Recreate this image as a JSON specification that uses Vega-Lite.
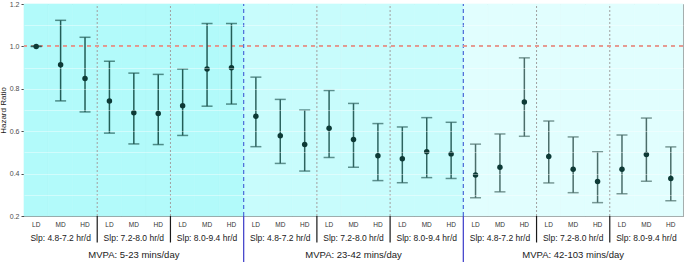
{
  "$schema": "https://vega.github.io/schema/vega-lite/v6.json",
  "width": 659,
  "height": 212,
  "autosize": {"type": "none"},
  "padding": {"left": 24, "top": 4, "right": 2, "bottom": 46},
  "config": {
    "font": "Liberation Sans",
    "view": {"stroke": "#8c8c8c", "strokeWidth": 1}
  },
  "data": {
    "values": [
      {"mvpa": "5-23", "slp": "4.8-7.2", "dose": "LD", "cat": "5-23|4.8-7.2|LD", "hr": 1.0, "lo": 1.0, "hi": 1.0},
      {"mvpa": "5-23", "slp": "4.8-7.2", "dose": "MD", "cat": "5-23|4.8-7.2|MD", "hr": 0.913, "lo": 0.743, "hi": 1.123},
      {"mvpa": "5-23", "slp": "4.8-7.2", "dose": "HD", "cat": "5-23|4.8-7.2|HD", "hr": 0.849, "lo": 0.691, "hi": 1.043},
      {"mvpa": "5-23", "slp": "7.2-8.0", "dose": "LD", "cat": "5-23|7.2-8.0|LD", "hr": 0.742, "lo": 0.591, "hi": 0.930},
      {"mvpa": "5-23", "slp": "7.2-8.0", "dose": "MD", "cat": "5-23|7.2-8.0|MD", "hr": 0.687, "lo": 0.540, "hi": 0.874},
      {"mvpa": "5-23", "slp": "7.2-8.0", "dose": "HD", "cat": "5-23|7.2-8.0|HD", "hr": 0.683, "lo": 0.537, "hi": 0.868},
      {"mvpa": "5-23", "slp": "8.0-9.4", "dose": "LD", "cat": "5-23|8.0-9.4|LD", "hr": 0.720, "lo": 0.580, "hi": 0.893},
      {"mvpa": "5-23", "slp": "8.0-9.4", "dose": "MD", "cat": "5-23|8.0-9.4|MD", "hr": 0.893, "lo": 0.718, "hi": 1.108},
      {"mvpa": "5-23", "slp": "8.0-9.4", "dose": "HD", "cat": "5-23|8.0-9.4|HD", "hr": 0.899, "lo": 0.728, "hi": 1.108},
      {"mvpa": "23-42", "slp": "4.8-7.2", "dose": "LD", "cat": "23-42|4.8-7.2|LD", "hr": 0.670, "lo": 0.527, "hi": 0.855},
      {"mvpa": "23-42", "slp": "4.8-7.2", "dose": "MD", "cat": "23-42|4.8-7.2|MD", "hr": 0.579, "lo": 0.448, "hi": 0.750},
      {"mvpa": "23-42", "slp": "4.8-7.2", "dose": "HD", "cat": "23-42|4.8-7.2|HD", "hr": 0.537, "lo": 0.412, "hi": 0.700},
      {"mvpa": "23-42", "slp": "7.2-8.0", "dose": "LD", "cat": "23-42|7.2-8.0|LD", "hr": 0.614, "lo": 0.476, "hi": 0.792},
      {"mvpa": "23-42", "slp": "7.2-8.0", "dose": "MD", "cat": "23-42|7.2-8.0|MD", "hr": 0.561, "lo": 0.430, "hi": 0.731},
      {"mvpa": "23-42", "slp": "7.2-8.0", "dose": "HD", "cat": "23-42|7.2-8.0|HD", "hr": 0.484, "lo": 0.367, "hi": 0.636},
      {"mvpa": "23-42", "slp": "8.0-9.4", "dose": "LD", "cat": "23-42|8.0-9.4|LD", "hr": 0.470, "lo": 0.357, "hi": 0.620},
      {"mvpa": "23-42", "slp": "8.0-9.4", "dose": "MD", "cat": "23-42|8.0-9.4|MD", "hr": 0.503, "lo": 0.381, "hi": 0.664},
      {"mvpa": "23-42", "slp": "8.0-9.4", "dose": "HD", "cat": "23-42|8.0-9.4|HD", "hr": 0.493, "lo": 0.377, "hi": 0.642},
      {"mvpa": "42-103", "slp": "4.8-7.2", "dose": "LD", "cat": "42-103|4.8-7.2|LD", "hr": 0.393, "lo": 0.286, "hi": 0.539},
      {"mvpa": "42-103", "slp": "4.8-7.2", "dose": "MD", "cat": "42-103|4.8-7.2|MD", "hr": 0.430, "lo": 0.314, "hi": 0.587},
      {"mvpa": "42-103", "slp": "4.8-7.2", "dose": "HD", "cat": "42-103|4.8-7.2|HD", "hr": 0.738, "lo": 0.576, "hi": 0.946},
      {"mvpa": "42-103", "slp": "7.2-8.0", "dose": "LD", "cat": "42-103|7.2-8.0|LD", "hr": 0.481, "lo": 0.356, "hi": 0.648},
      {"mvpa": "42-103", "slp": "7.2-8.0", "dose": "MD", "cat": "42-103|7.2-8.0|MD", "hr": 0.421, "lo": 0.310, "hi": 0.573},
      {"mvpa": "42-103", "slp": "7.2-8.0", "dose": "HD", "cat": "42-103|7.2-8.0|HD", "hr": 0.363, "lo": 0.263, "hi": 0.503},
      {"mvpa": "42-103", "slp": "8.0-9.4", "dose": "LD", "cat": "42-103|8.0-9.4|LD", "hr": 0.421, "lo": 0.305, "hi": 0.582},
      {"mvpa": "42-103", "slp": "8.0-9.4", "dose": "MD", "cat": "42-103|8.0-9.4|MD", "hr": 0.490, "lo": 0.364, "hi": 0.662},
      {"mvpa": "42-103", "slp": "8.0-9.4", "dose": "HD", "cat": "42-103|8.0-9.4|HD", "hr": 0.377, "lo": 0.272, "hi": 0.526}
    ]
  },
  "resolve": {"axis": {"x": "independent", "y": "independent"}},
  "layer": [
    {
      "mark": {"type": "rect", "strokeWidth": 0.6},
      "encoding": {
        "x": {
          "field": "cat", "type": "ordinal",
          "scale": {
            "type": "band", "paddingInner": 0, "paddingOuter": 0,
            "domain": ["5-23|4.8-7.2|LD","5-23|4.8-7.2|MD","5-23|4.8-7.2|HD","5-23|7.2-8.0|LD","5-23|7.2-8.0|MD","5-23|7.2-8.0|HD","5-23|8.0-9.4|LD","5-23|8.0-9.4|MD","5-23|8.0-9.4|HD","23-42|4.8-7.2|LD","23-42|4.8-7.2|MD","23-42|4.8-7.2|HD","23-42|7.2-8.0|LD","23-42|7.2-8.0|MD","23-42|7.2-8.0|HD","23-42|8.0-9.4|LD","23-42|8.0-9.4|MD","23-42|8.0-9.4|HD","42-103|4.8-7.2|LD","42-103|4.8-7.2|MD","42-103|4.8-7.2|HD","42-103|7.2-8.0|LD","42-103|7.2-8.0|MD","42-103|7.2-8.0|HD","42-103|8.0-9.4|LD","42-103|8.0-9.4|MD","42-103|8.0-9.4|HD"]
          },
          "axis": {
            "orient": "bottom", "title": null, "ticks": false, "tickSize": 0, "domain": false,
            "labelExpr": "split(datum.value, '|')[2]", "labelAngle": 0,
            "labelFontSize": 6.5, "labelColor": "#333333", "labelPadding": 5, "labelOverlap": false
          }
        },
        "fill": {
          "field": "mvpa", "type": "nominal",
          "scale": {"domain": ["5-23", "23-42", "42-103"], "range": ["#b2fafa", "#c8fcfc", "#e1fefe"]},
          "legend": null
        },
        "stroke": {
          "field": "mvpa", "type": "nominal",
          "scale": {"domain": ["5-23", "23-42", "42-103"], "range": ["#b2fafa", "#c8fcfc", "#e1fefe"]},
          "legend": null
        }
      }
    },
    {
      "transform": [{"filter": "datum.dose == 'LD' && datum.slp != '4.8-7.2'"}],
      "mark": {"type": "rule", "color": "#a0a0a0", "strokeWidth": 1, "strokeDash": [2, 2]},
      "encoding": {
        "x": {"field": "cat", "type": "ordinal", "bandPosition": 0, "axis": null},
        "y": {"datum": 0.2, "axis": null},
        "y2": {"datum": 1.2}
      }
    },
    {
      "transform": [{"filter": "datum.dose == 'LD' && datum.slp != '4.8-7.2'"}],
      "mark": {"type": "rule", "color": "#1a1a1a", "strokeWidth": 1.2},
      "encoding": {
        "x": {"field": "cat", "type": "ordinal", "bandPosition": 0, "axis": null},
        "y": {"datum": 0.2, "axis": null},
        "y2": {"datum": 0.075}
      }
    },
    {
      "transform": [{"filter": "datum.dose == 'LD' && datum.slp == '4.8-7.2' && datum.mvpa != '5-23'"}],
      "mark": {"type": "rule", "color": "#4a6ad8", "strokeWidth": 1.2, "strokeDash": [4, 3]},
      "encoding": {
        "x": {"field": "cat", "type": "ordinal", "bandPosition": 0, "axis": null},
        "y": {"datum": 0.2, "axis": null},
        "y2": {"datum": 1.2}
      }
    },
    {
      "transform": [{"filter": "datum.dose == 'LD' && datum.slp == '4.8-7.2' && datum.mvpa != '5-23'"}],
      "mark": {"type": "rule", "color": "#4848cc", "strokeWidth": 1.3},
      "encoding": {
        "x": {"field": "cat", "type": "ordinal", "bandPosition": 0, "axis": null},
        "y": {"datum": 0.2, "axis": null},
        "y2": {"datum": -0.04}
      }
    },
    {
      "mark": {"type": "rule", "color": "#e99a92", "strokeWidth": 0.9, "strokeDash": [4, 4]},
      "encoding": {
        "y": {"datum": 1.0, "axis": null}
      }
    },
    {
      "mark": {"type": "rule", "strokeWidth": 1.5},
      "encoding": {
        "x": {
          "field": "cat", "type": "ordinal",
          "axis": {
            "orient": "bottom", "title": null, "ticks": false, "tickSize": 0, "domain": false,
            "values": ["5-23|4.8-7.2|MD","5-23|7.2-8.0|MD","5-23|8.0-9.4|MD","23-42|4.8-7.2|MD","23-42|7.2-8.0|MD","23-42|8.0-9.4|MD","42-103|4.8-7.2|MD","42-103|7.2-8.0|MD","42-103|8.0-9.4|MD"],
            "labelExpr": "'Slp: ' + split(datum.value, '|')[1] + ' hr/d'", "labelAngle": 0,
            "labelFontSize": 8.5, "labelColor": "#1a1a1a", "labelPadding": 17, "labelOverlap": false
          }
        },
        "y": {
          "field": "lo", "type": "quantitative",
          "scale": {"domain": [0.2, 1.2], "nice": false, "zero": false},
          "axis": {
            "orient": "left", "values": [0.2, 0.4, 0.6, 0.8, 1.0, 1.2], "format": ".1f",
            "labelFontSize": 7, "labelColor": "#4d4d4d", "tickColor": "#4d4d4d", "tickSize": 3,
            "labelPadding": 2, "domain": false, "grid": false,
            "title": "Hazard Ratio", "titleFontSize": 8, "titleFontWeight": "normal",
            "titleColor": "#1a1a1a", "titlePadding": 2
          }
        },
        "y2": {"field": "hi"},
        "color": {
          "field": "mvpa", "type": "nominal",
          "scale": {"domain": ["5-23", "23-42", "42-103"], "range": ["#225d57", "#2d635f", "#4b6d6a"]},
          "legend": null
        }
      }
    },
    {
      "mark": {"type": "tick", "size": 11, "thickness": 1.5},
      "encoding": {
        "x": {
          "field": "cat", "type": "ordinal",
          "axis": {
            "orient": "bottom", "title": null, "ticks": false, "tickSize": 0, "domain": false,
            "values": ["5-23|7.2-8.0|MD","23-42|7.2-8.0|MD","42-103|7.2-8.0|MD"],
            "labelExpr": "'MVPA: ' + split(datum.value, '|')[0] + ' mins/day'", "labelAngle": 0,
            "labelFontSize": 9.5, "labelColor": "#1a1a1a", "labelPadding": 33, "labelOverlap": false
          }
        },
        "y": {
          "field": "hi", "type": "quantitative",
          "axis": {
            "orient": "left", "values": [0.3, 0.4, 0.5, 0.6, 0.7, 0.8, 0.9, 1.1],
            "labels": false, "ticks": false, "domain": false, "grid": true,
            "gridColor": "#ffffff", "gridOpacity": 0.5, "gridWidth": 0.8, "zindex": 1,
            "title": null
          }
        },
        "color": {"field": "mvpa", "type": "nominal", "legend": null}
      }
    },
    {
      "mark": {"type": "tick", "size": 11, "thickness": 1.5},
      "encoding": {
        "x": {"field": "cat", "type": "ordinal", "axis": null},
        "y": {"field": "lo", "type": "quantitative", "axis": null},
        "color": {"field": "mvpa", "type": "nominal", "legend": null}
      }
    },
    {
      "mark": {"type": "point", "filled": true, "size": 30, "opacity": 1, "color": "#0d3a36"},
      "encoding": {
        "x": {"field": "cat", "type": "ordinal", "axis": null},
        "y": {"field": "hr", "type": "quantitative", "axis": null}
      }
    }
  ]
}
